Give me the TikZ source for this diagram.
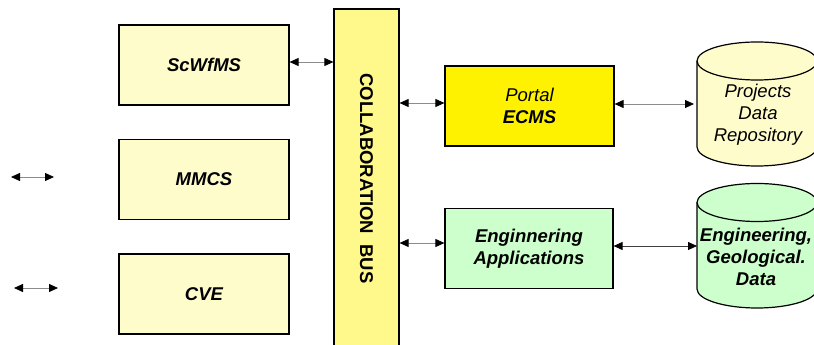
\documentclass[tikz,border=0pt]{standalone}
\usepackage{fontspec}
\setmainfont{Liberation Sans}
\usepackage{tikz}
\usetikzlibrary{arrows.meta}

\begin{document}
\begin{tikzpicture}[x=1pt, y=1pt]

	\tikzstyle{module_node}=[rectangle, fill=yellow!20, draw=black, line width=1.2pt, minimum width=170pt, minimum height=80pt, font=\bfseries\itshape]
	\tikzstyle{portal_node}=[module_node, fill=yellow]
	\tikzstyle{app_node}=[module_node, fill=green!20, align=center]
	\tikzstyle{bus_node}=[rectangle, fill=yellow!45, draw=black, line width=1.2pt, minimum width=65pt, minimum height=339pt]
	\tikzstyle{store_text}=[align=center, font=\itshape]
	\tikzstyle{link}=[{Triangle[length=9pt, width=8pt, color=black]}-{Triangle[length=9pt, width=8pt, color=black]}, draw=black!45, line width=0.8pt]

	\fontsize{18.5}{22}\selectfont
	\useasboundingbox (0,0) rectangle (814,345);

	%Main nodes
	\node[module_node] at (204, 280) (scwfms) {ScWfMS};
	\node[module_node] at (204, 165.5) (mmcs) {MMCS};
	\node[module_node] at (204, 51) (cve) {CVE};

	\node[bus_node] at (366.5, 166.5) (bus) {};
	\node[rotate=-90, font=\bfseries] at (bus.center) (bus_label) {COLLABORATION\ \ BUS};

	\node[portal_node, minimum width=169pt, align=center] at (529.5, 239) (ecms) {\mdseries Portal\\ECMS};
	\node[app_node, minimum width=168pt] at (529, 96.5) (apps) {Enginnering\\Applications};

	% Data stores (cylinders)
	\filldraw[fill=yellow!20, line width=1.2pt] (697, 284) -- (697, 198) arc (180:360:60 and 19) -- (817, 284) arc (0:180:60 and 19) -- cycle;
	\draw[line width=1.2pt] (697, 284) arc (180:360:60 and 19);
	\node[store_text] at (758, 230) (repository) {Projects\\Data\\Repository};

	\filldraw[fill=green!20, line width=1.2pt] (697, 142.5) -- (697, 56) arc (180:360:60 and 19) -- (817, 142.5) arc (0:180:60 and 19) -- cycle;
	\draw[line width=1.2pt] (697, 142.5) arc (180:360:60 and 19);
	\node[store_text, font=\bfseries\itshape] at (756, 88) (geodata) {Engineering,\\Geological.\\Data};

	\coordinate (repo_port) at (694, 241);
	\coordinate (geo_port) at (697, 99);
	\coordinate (mmcs_left) at (11, 168);
	\coordinate (mmcs_right) at (54, 168);
	\coordinate (cve_left) at (14, 57);
	\coordinate (cve_right) at (58, 57);

	% Connections
	\draw[link] ([yshift=3pt]scwfms.east) -- ([yshift=3pt]scwfms.east -| bus.west);
	\draw[link] ([yshift=3pt]ecms.west -| bus.east) -- ([yshift=3pt]ecms.west);
	\draw[link] ([yshift=5.5pt]apps.west -| bus.east) -- ([yshift=5.5pt]apps.west);
	\draw[link] ([yshift=2pt]ecms.east) -- (repo_port);
	\draw[link, draw=black!75] ([yshift=2.5pt]apps.east) -- (geo_port);

	\draw[link] (mmcs_left) -- (mmcs_right);
	\draw[link] (cve_left) -- (cve_right);

\end{tikzpicture}
\end{document}
